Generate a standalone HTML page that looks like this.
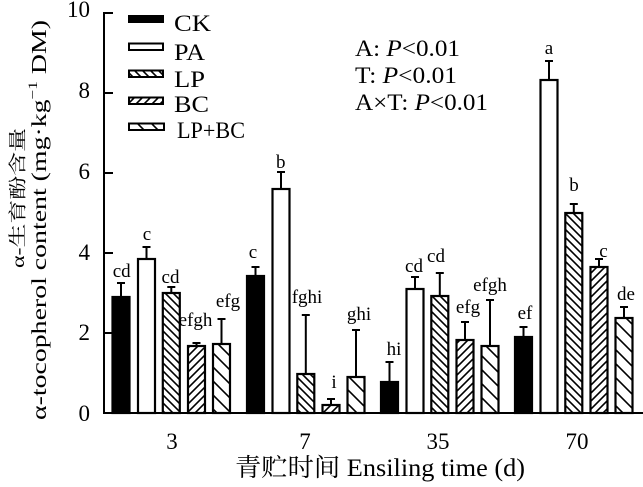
<!DOCTYPE html>
<html>
<head>
<meta charset="utf-8">
<style>
  html,body{margin:0;padding:0;background:#fff;}
  svg{display:block;}
  text{font-family:"Liberation Serif","Noto Serif CJK SC","Noto Sans CJK SC",serif;fill:#000;}
</style>
</head>
<body>
<svg width="643" height="487" viewBox="0 0 643 487" xmlns="http://www.w3.org/2000/svg">
  <defs>
    <pattern id="lp" patternUnits="userSpaceOnUse" width="8" height="8">
      <path d="M-2,-2 L10,10 M-2,6 L2,10 M6,-2 L10,2" stroke="#000" stroke-width="1.6"/>
    </pattern>
    <pattern id="bc" patternUnits="userSpaceOnUse" width="8" height="8">
      <path d="M-2,10 L10,-2 M-2,2 L2,-2 M6,10 L10,6" stroke="#000" stroke-width="1.6"/>
    </pattern>
    <pattern id="lpbc" patternUnits="userSpaceOnUse" width="14" height="14">
      <path d="M-2,-2 L16,16 M-2,12 L2,16 M12,-2 L16,2" stroke="#000" stroke-width="1.6"/>
    </pattern>
  </defs>

  <!-- axes -->
  <line x1="104" y1="12" x2="104" y2="414" stroke="#000" stroke-width="2"/>
  <line x1="103" y1="413" x2="643" y2="413" stroke="#000" stroke-width="2"/>
  <g stroke="#000" stroke-width="2">
    <line x1="104" y1="13" x2="113" y2="13"/>
    <line x1="104" y1="93" x2="113" y2="93"/>
    <line x1="104" y1="173" x2="113" y2="173"/>
    <line x1="104" y1="253" x2="113" y2="253"/>
    <line x1="104" y1="333" x2="113" y2="333"/>
  </g>
  <g font-size="23" text-anchor="end">
    <text x="90" y="17">10</text>
    <text x="90" y="98">8</text>
    <text x="90" y="179">6</text>
    <text x="90" y="260">4</text>
    <text x="90" y="340">2</text>
    <text x="90" y="421">0</text>
  </g>
  <g font-size="23" text-anchor="middle">
    <text x="172" y="449">3</text>
    <text x="305" y="449">7</text>
    <text x="438" y="449">35</text>
    <text x="577" y="449">70</text>
  </g>

  <!-- axis titles -->
  <text x="235" y="476" font-size="25" textLength="290" lengthAdjust="spacingAndGlyphs">青贮时间 Ensiling time (d)</text>
  <text transform="translate(24,268) rotate(-90)" font-size="18" textLength="140" lengthAdjust="spacingAndGlyphs">α-生育酚含量</text>
  <text transform="translate(46,420) rotate(-90)" font-size="21" textLength="400" lengthAdjust="spacingAndGlyphs">α-tocopherol content (mg·kg<tspan font-size="13" dy="-9">−1</tspan><tspan dy="9"> DM)</tspan></text>

  <!-- legend -->
  <rect x="128" y="15" width="36" height="8" fill="#000"/>
  <rect x="129" y="43.5" width="34" height="6.5" fill="#fff" stroke="#000" stroke-width="2"/>
  <rect x="129" y="70.5" width="34" height="6.5" fill="url(#lp)" stroke="#000" stroke-width="2"/>
  <rect x="129" y="97.5" width="34" height="6.5" fill="url(#bc)" stroke="#000" stroke-width="2"/>
  <rect x="129" y="123.5" width="35" height="6.5" fill="url(#lpbc)" stroke="#000" stroke-width="2"/>
  <g font-size="23">
    <text x="174" y="31" textLength="37" lengthAdjust="spacingAndGlyphs">CK</text>
    <text x="174" y="60" textLength="31" lengthAdjust="spacingAndGlyphs">PA</text>
    <text x="174" y="87" textLength="31" lengthAdjust="spacingAndGlyphs">LP</text>
    <text x="174" y="112" textLength="35" lengthAdjust="spacingAndGlyphs">BC</text>
    <text x="177" y="138" textLength="68" lengthAdjust="spacingAndGlyphs">LP+BC</text>
  </g>

  <!-- stats -->
  <g font-size="23">
    <text x="355" y="56" textLength="105" lengthAdjust="spacingAndGlyphs">A: <tspan font-style="italic">P</tspan>&lt;0.01</text>
    <text x="355" y="83" textLength="102" lengthAdjust="spacingAndGlyphs">T: <tspan font-style="italic">P</tspan>&lt;0.01</text>
    <text x="355" y="110" textLength="133" lengthAdjust="spacingAndGlyphs">A×T: <tspan font-style="italic">P</tspan>&lt;0.01</text>
  </g>

  <!-- bars -->
  <g stroke="#000" stroke-width="2.2">
    <rect x="112.5" y="297" width="17" height="116" fill="#000"/>
    <rect x="138" y="259" width="17" height="154" fill="#fff"/>
    <rect x="162.8" y="293" width="17" height="120" fill="url(#lp)"/>
    <rect x="188" y="346" width="17" height="67" fill="url(#bc)"/>
    <rect x="213" y="344" width="17" height="69" fill="url(#lpbc)"/>

    <rect x="247" y="276" width="17" height="137" fill="#000"/>
    <rect x="272.5" y="189" width="17" height="224" fill="#fff"/>
    <rect x="297.3" y="374" width="17" height="39" fill="url(#lp)"/>
    <rect x="322.5" y="405" width="17" height="8" fill="url(#bc)"/>
    <rect x="347.5" y="377" width="17" height="36" fill="url(#lpbc)"/>

    <rect x="381" y="382" width="17" height="31" fill="#000"/>
    <rect x="406.5" y="289" width="17" height="124" fill="#fff"/>
    <rect x="431.3" y="296" width="17" height="117" fill="url(#lp)"/>
    <rect x="456.5" y="340" width="17" height="73" fill="url(#bc)"/>
    <rect x="481.5" y="346" width="17" height="67" fill="url(#lpbc)"/>

    <rect x="515" y="337" width="17" height="76" fill="#000"/>
    <rect x="540.5" y="80" width="17" height="333" fill="#fff"/>
    <rect x="565.3" y="213" width="17" height="200" fill="url(#lp)"/>
    <rect x="590.5" y="267" width="17" height="146" fill="url(#bc)"/>
    <rect x="615.5" y="318" width="17" height="95" fill="url(#lpbc)"/>
  </g>

  <!-- error bars -->
  <g stroke="#000" stroke-width="2" fill="none">
    <path d="M121,297 V283 M117,283 H125"/>
    <path d="M146.5,259 V247 M142.5,247 H150.5"/>
    <path d="M171.3,293 V287 M167.3,287 H175.3"/>
    <path d="M196.5,346 V343 M192.5,343 H200.5"/>
    <path d="M221.5,344 V319 M217.5,319 H225.5"/>

    <path d="M255.5,276 V267 M251.5,267 H259.5"/>
    <path d="M281,189 V172 M277,172 H285"/>
    <path d="M305.8,374 V315 M301.8,315 H309.8"/>
    <path d="M331,405 V399 M327,399 H335"/>
    <path d="M356,377 V330 M352,330 H360"/>

    <path d="M389.5,382 V362 M385.5,362 H393.5"/>
    <path d="M415,289 V277 M411,277 H419"/>
    <path d="M439.8,296 V273 M435.8,273 H443.8"/>
    <path d="M465,340 V322 M461,322 H469"/>
    <path d="M490,346 V300 M486,300 H494"/>

    <path d="M523.5,337 V327 M519.5,327 H527.5"/>
    <path d="M549,80 V61 M545,61 H553"/>
    <path d="M573.8,213 V204 M569.8,204 H577.8"/>
    <path d="M599,267 V259 M595,259 H603"/>
    <path d="M624,318 V307 M620,307 H628"/>
  </g>

  <!-- significance letters -->
  <g font-size="19" text-anchor="middle">
    <text x="121.7" y="277">cd</text>
    <text x="147" y="240">c</text>
    <text x="170.5" y="283">cd</text>
    <text x="195.5" y="326">efgh</text>
    <text x="228" y="307">efg</text>

    <text x="253" y="258">c</text>
    <text x="280.7" y="168">b</text>
    <text x="307" y="303">fghi</text>
    <text x="334" y="388">i</text>
    <text x="359" y="320">ghi</text>

    <text x="394" y="355">hi</text>
    <text x="414" y="272">cd</text>
    <text x="436" y="262">cd</text>
    <text x="468" y="313">efg</text>
    <text x="490" y="291">efgh</text>

    <text x="525" y="319">ef</text>
    <text x="549" y="54">a</text>
    <text x="574" y="191">b</text>
    <text x="603.5" y="257">c</text>
    <text x="626" y="300">de</text>
  </g>
</svg>
</body>
</html>
